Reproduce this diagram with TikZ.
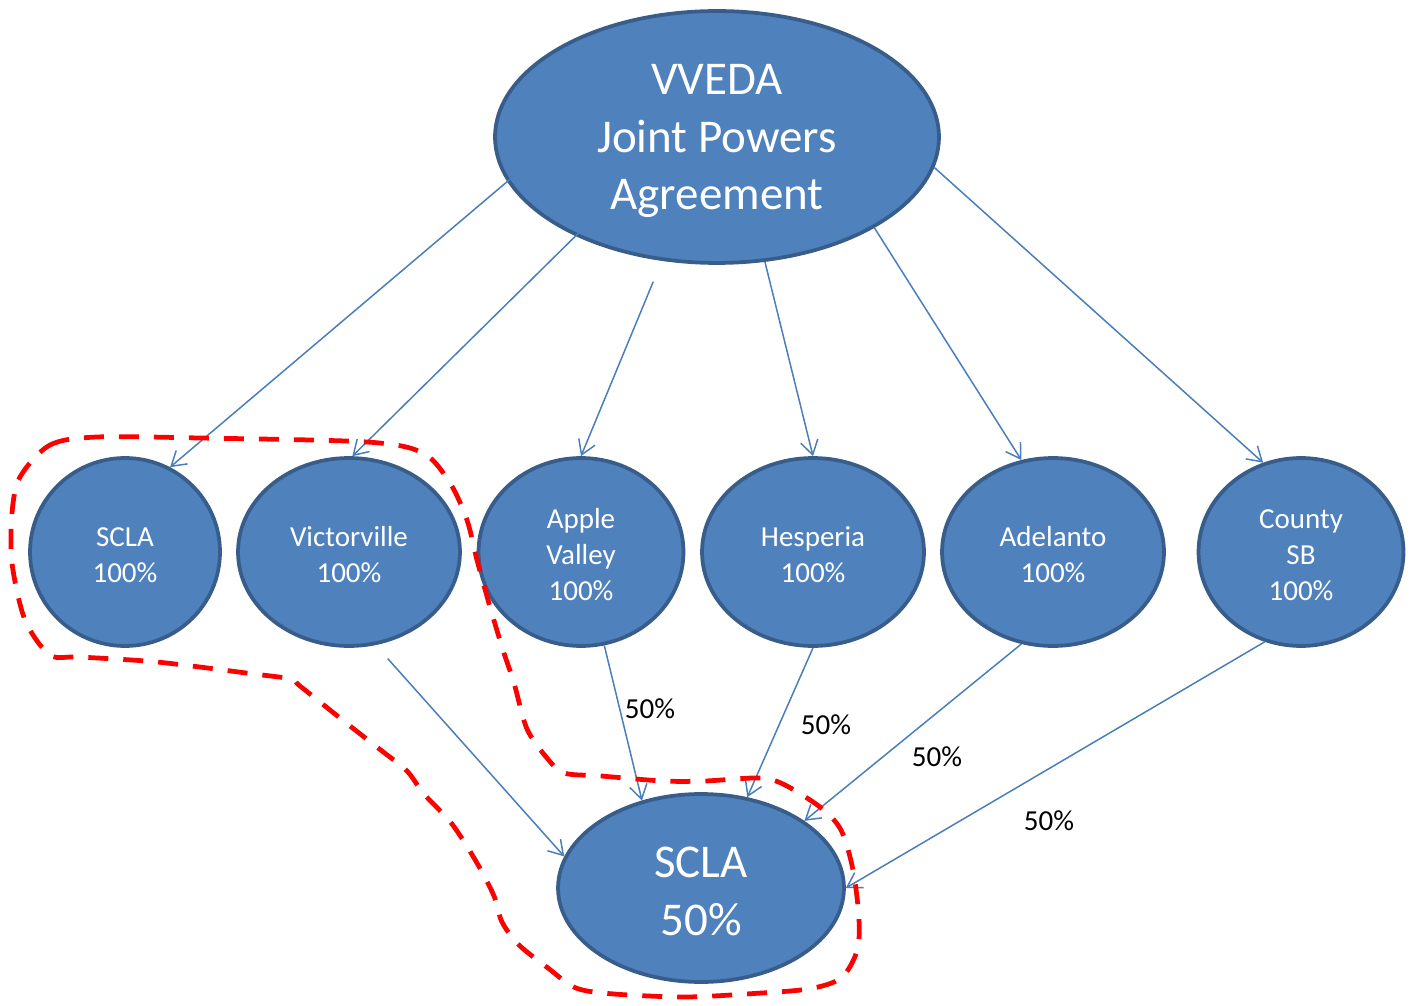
\documentclass[tikz,border=0pt]{standalone}
\usepackage{fontspec}
\setmainfont{Carlito}
\usetikzlibrary{shapes.geometric,arrows.meta}
\definecolor{nodefill}{HTML}{4F81BD}
\definecolor{nodeline}{HTML}{385D8A}
\definecolor{linkblue}{HTML}{4A7EBB}
\definecolor{groupred}{HTML}{FF0000}
\begin{document}
\begin{tikzpicture}[x=0.02cm,y=-0.02cm,
  blob/.style={ellipse, draw=nodeline, fill=nodefill, line width=0.075cm, inner sep=0pt},
  smallblob/.style={blob, minimum height=3.76cm},
  smalltxt/.style={text=white, align=center, inner sep=0pt, font=\fontsize{16.5}{20.5}\selectfont, yshift=-0.06cm},
  bigtxt/.style={text=white, align=center, inner sep=0pt, font=\fontsize{26.75}{32.7}\selectfont, yshift=-0.08cm},
  link/.style={draw=linkblue, line width=0.85pt, -{Straight Barb[length=8pt,width=10pt,line width=0.85pt]}},
  pct/.style={font=\fontsize{16.5}{20.5}\selectfont, text=black, inner sep=0pt},
  groupline/.style={draw=groupred, line width=0.095cm, dash pattern=on 0.4cm off 0.3cm}]
\useasboundingbox (0,0) rectangle (1416,1006);

\node[blob, minimum width=8.88cm, minimum height=5.04cm,
  label={[bigtxt]center:VVEDA\\Joint Powers\\Agreement}] (top) at (717,137) {};
\node[smallblob, minimum width=3.8cm, label={[smalltxt]center:SCLA\\100\%}] (scla) at (125,552) {};
\node[smallblob, minimum width=4.44cm, label={[smalltxt]center:Victorville\\100\%}] (vic) at (349,552) {};
\node[smallblob, minimum width=4.1cm, label={[smalltxt]center:Apple\\Valley\\100\%}] (apple) at (581,552) {};
\node[smallblob, minimum width=4.44cm, label={[smalltxt]center:Hesperia\\100\%}] (hesp) at (813,552) {};
\node[smallblob, minimum width=4.44cm, label={[smalltxt]center:Adelanto\\100\%}] (adel) at (1053,552) {};
\node[smallblob, minimum width=4.1cm, label={[smalltxt]center:County\\SB\\100\%}] (county) at (1301,552) {};
\node[blob, minimum width=5.72cm, minimum height=3.76cm,
  label={[bigtxt, yshift=0.01cm]center:SCLA\\50\%}] (scla50) at (701,888) {};

\draw[link, shorten <=-0.2cm] (top.192) -- (scla.62);
\draw[link, shorten <=-0.1cm] (top.215) -- (vic.88);
\draw[link, shorten <=0.45cm] (top.246) -- (apple.90);
\draw[link] (top.291) -- (hesp.90);
\draw[link] (top.330) -- (adel.109);
\draw[link] (top.352) -- (county.113);

\draw[link, shorten <=0.36cm] (vic.286) -- (scla50.167);
\draw[link] (apple.284) -- (scla50.124);
\draw[link] (hesp.270) -- (scla50.63);
\draw[link] (adel.251) -- (scla50.33);
\draw[link] (county.248) -- (scla50.0);

\node[pct] (p1) at (650,709) {50\%};
\node[pct] (p2) at (826,725) {50\%};
\node[pct] (p3) at (937,757) {50\%};
\node[pct] (p4) at (1049,821) {50\%};

\draw[groupline] plot[smooth cycle, tension=0.5] coordinates {
 (20,477) (50,445) (97,437) (200,438) (367,442) (423,453) (450,483) (467,520)
 (477,560) (490,607) (503,650) (514,683) (527,729) (547,758) (564,773) (601,776)
 (663,781) (705,781) (758,778) (783,784) (820,807) (841,830) (853,870) (859,919)
 (857,951) (841,978) (808,989) (746,994) (684,997) (614,994) (576,988) (548,968)
 (519,945) (502,922) (494,896) (477,863) (452,824) (424,794) (407,771) (382,751)
 (345,722) (300,686) (291,679) (254,674) (157,662) (80,657) (50,655) (25,620)
 (12,563) (12,513)};
\end{tikzpicture}
\end{document}
